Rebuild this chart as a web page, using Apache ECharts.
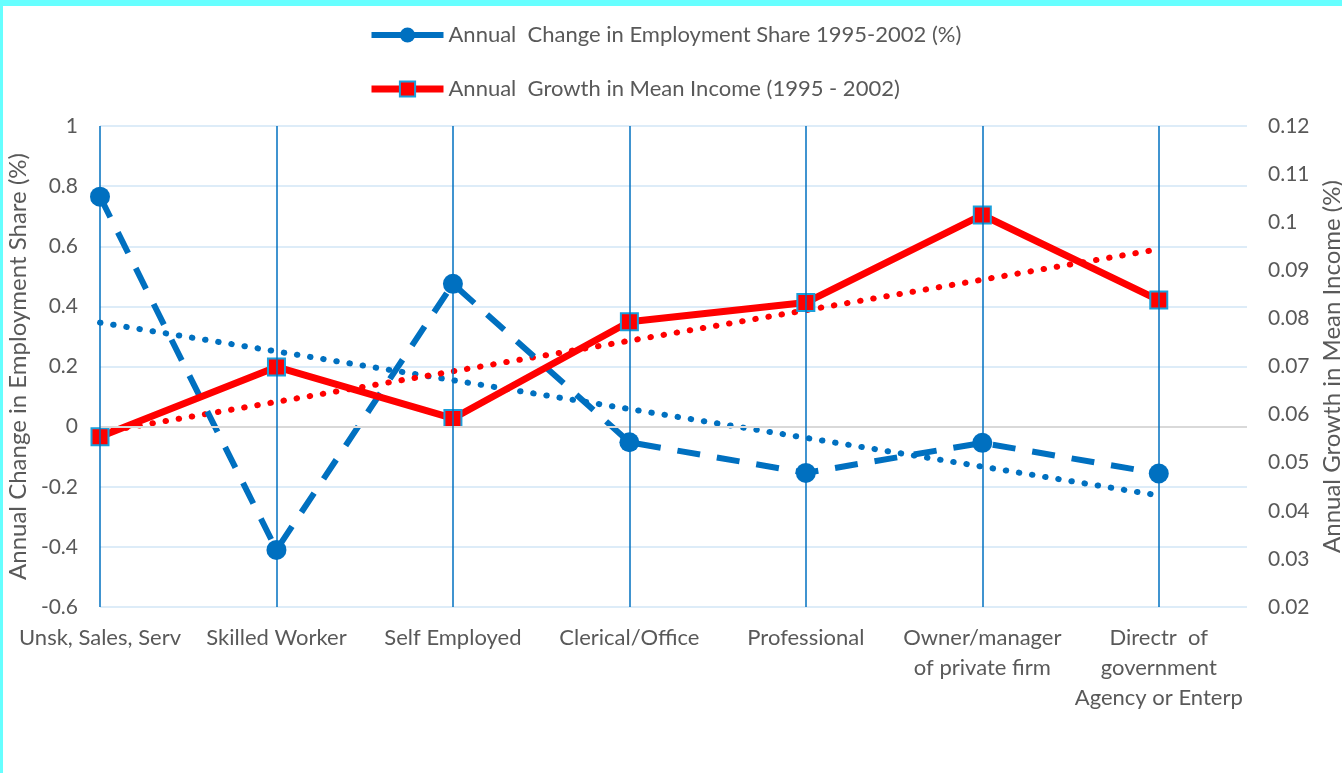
<!DOCTYPE html>
<html>
<head>
<meta charset="utf-8">
<script src="https://cdn.jsdelivr.net/npm/echarts@6/dist/echarts.min.js"></script>
<style>
  html, body { margin: 0; padding: 0; background: #fff; }
  #main { position: absolute; left: 0; top: 0; width: 1342px; height: 773px; }
  .edge { position: absolute; background: #66FFFF; z-index: 5; }
</style>
</head>
<body>
<div id="main"></div>
<div class="edge" style="left:0;top:0;width:1342px;height:6px"></div>
<div class="edge" style="left:0;top:0;width:3px;height:773px"></div>
<script>
const categories = [
  "Unsk, Sales, Serv",
  "Skilled Worker",
  "Self Employed",
  "Clerical/Office",
  "Professional",
  "Owner/manager\nof private firm",
  "Directr  of\ngovernment\nAgency or Enterp",
];
const employmentShare = [0.765, -0.41, 0.475, -0.052, -0.154, -0.054, -0.156];
const meanIncomeGrowth = [0.0554, 0.0699, 0.0592, 0.0793, 0.0833, 0.1015, 0.0838];
// trend line ends (first and last category)
const employmentTrend = [0.346, -0.229];
const incomeTrend = [0.0563, 0.0944];
const leftTicks = { min: -0.6, max: 1, interval: 0.2 };
const rightTicks = { min: 0.02, max: 0.12, interval: 0.01 };

const textColor = "#595959";
const font = "Lato";
const last = categories.length - 1;
const blueName = "Annual  Change in Employment Share 1995-2002 (%)";
const redName = "Annual  Growth in Mean Income (1995 - 2002)";

const chart = echarts.init(document.getElementById("main"));

const option = {
  animation: false,
  textStyle: { fontFamily: font, color: textColor },
  legend: {
    orient: "vertical",
    left: 368,
    top: 24,
    padding: 0,
    itemWidth: 72,
    itemHeight: 19,
    itemGap: 32,
    data: [
      { name: blueName, lineStyle: { width: 6, type: "solid" } },
      { name: redName, lineStyle: { width: 7 } },
    ],
    textStyle: { fontSize: 22, color: textColor, fontFamily: font, padding: [0, 0, 0, 0] },
  },
  grid: { left: 100, right: 95, top: 126, bottom: 166, outerBoundsMode: "none" },
  xAxis: {
    type: "value",
    min: 0,
    max: 6.5,
    interval: 1,
    axisLine: { show: false },
    axisTick: { show: false },
    splitLine: { show: false },
    axisLabel: {
      fontSize: 22,
      color: textColor,
      fontFamily: font,
      lineHeight: 30,
      margin: 16,
      verticalAlign: "top",
      formatter: (v) => (Number.isInteger(v) ? categories[v] : ""),
    },
  },
  yAxis: [
    {
      type: "value",
      min: leftTicks.min,
      max: leftTicks.max,
      interval: leftTicks.interval,
      name: "Annual Change in Employment Share (%)",
      nameLocation: "middle",
      nameGap: 58,
      nameTextStyle: { fontSize: 24, color: textColor, fontFamily: font },
      axisLine: { show: false },
      axisTick: { show: false },
      axisLabel: {
        fontSize: 21,
        color: textColor,
        margin: 22,
        formatter: (v) => String(Math.round(v * 10) / 10),
      },
      splitLine: { lineStyle: { color: "#DDECF8", width: 2 } },
    },
    {
      type: "value",
      min: rightTicks.min,
      max: rightTicks.max,
      interval: rightTicks.interval,
      name: "Annual Growth in Mean Income (%)",
      nameLocation: "middle",
      nameGap: 66,
      nameTextStyle: { fontSize: 24, color: textColor, fontFamily: font },
      axisLine: { show: false },
      axisTick: { show: false },
      axisLabel: {
        fontSize: 21,
        color: textColor,
        margin: 21,
        formatter: (v) => String(Math.round(v * 100) / 100),
      },
      splitLine: { show: false },
    },
  ],
  series: [
    {
      name: "employment trend",
      type: "line",
      yAxisIndex: 0,
      z: 1,
      symbol: "none",
      silent: true,
      data: [[0, employmentTrend[0]], [last, employmentTrend[1]]],
      lineStyle: { color: "#0070C0", width: 6, type: [0.5, 12.8], cap: "round" },
      markLine: {
        silent: true,
        symbol: "none",
        label: { show: false },
        data: [{ yAxis: 0, lineStyle: { color: "#D9D9D9", width: 2, type: "solid" } }].concat(
          categories.map((c, i) => ({
            xAxis: i,
            lineStyle: { color: "#0070C0", width: 1.5, type: "solid" },
          }))
        ),
      },
    },
    {
      name: "income trend",
      type: "line",
      yAxisIndex: 1,
      z: 1,
      symbol: "none",
      silent: true,
      data: [[0, incomeTrend[0]], [last, incomeTrend[1]]],
      lineStyle: { color: "#FF0000", width: 6, type: [0.5, 12.8], cap: "round" },
    },
    {
      name: blueName,
      type: "line",
      yAxisIndex: 0,
      z: 3,
      symbol: "circle",
      symbolSize: 20,
      data: employmentShare.map((v, i) => [i, v]),
      itemStyle: { color: "#0070C0" },
      lineStyle: { color: "#0070C0", width: 6, type: [23, 17] },
    },
    {
      name: redName,
      type: "line",
      yAxisIndex: 1,
      z: 4,
      symbol: "rect",
      symbolSize: 17,
      data: meanIncomeGrowth.map((v, i) => [i, v]),
      itemStyle: { color: "#FF0000", borderColor: "#1A9FDB", borderWidth: 2 },
      lineStyle: { color: "#FF0000", width: 7 },
    },
  ],
};

chart.setOption(option);
</script>
</body>
</html>
